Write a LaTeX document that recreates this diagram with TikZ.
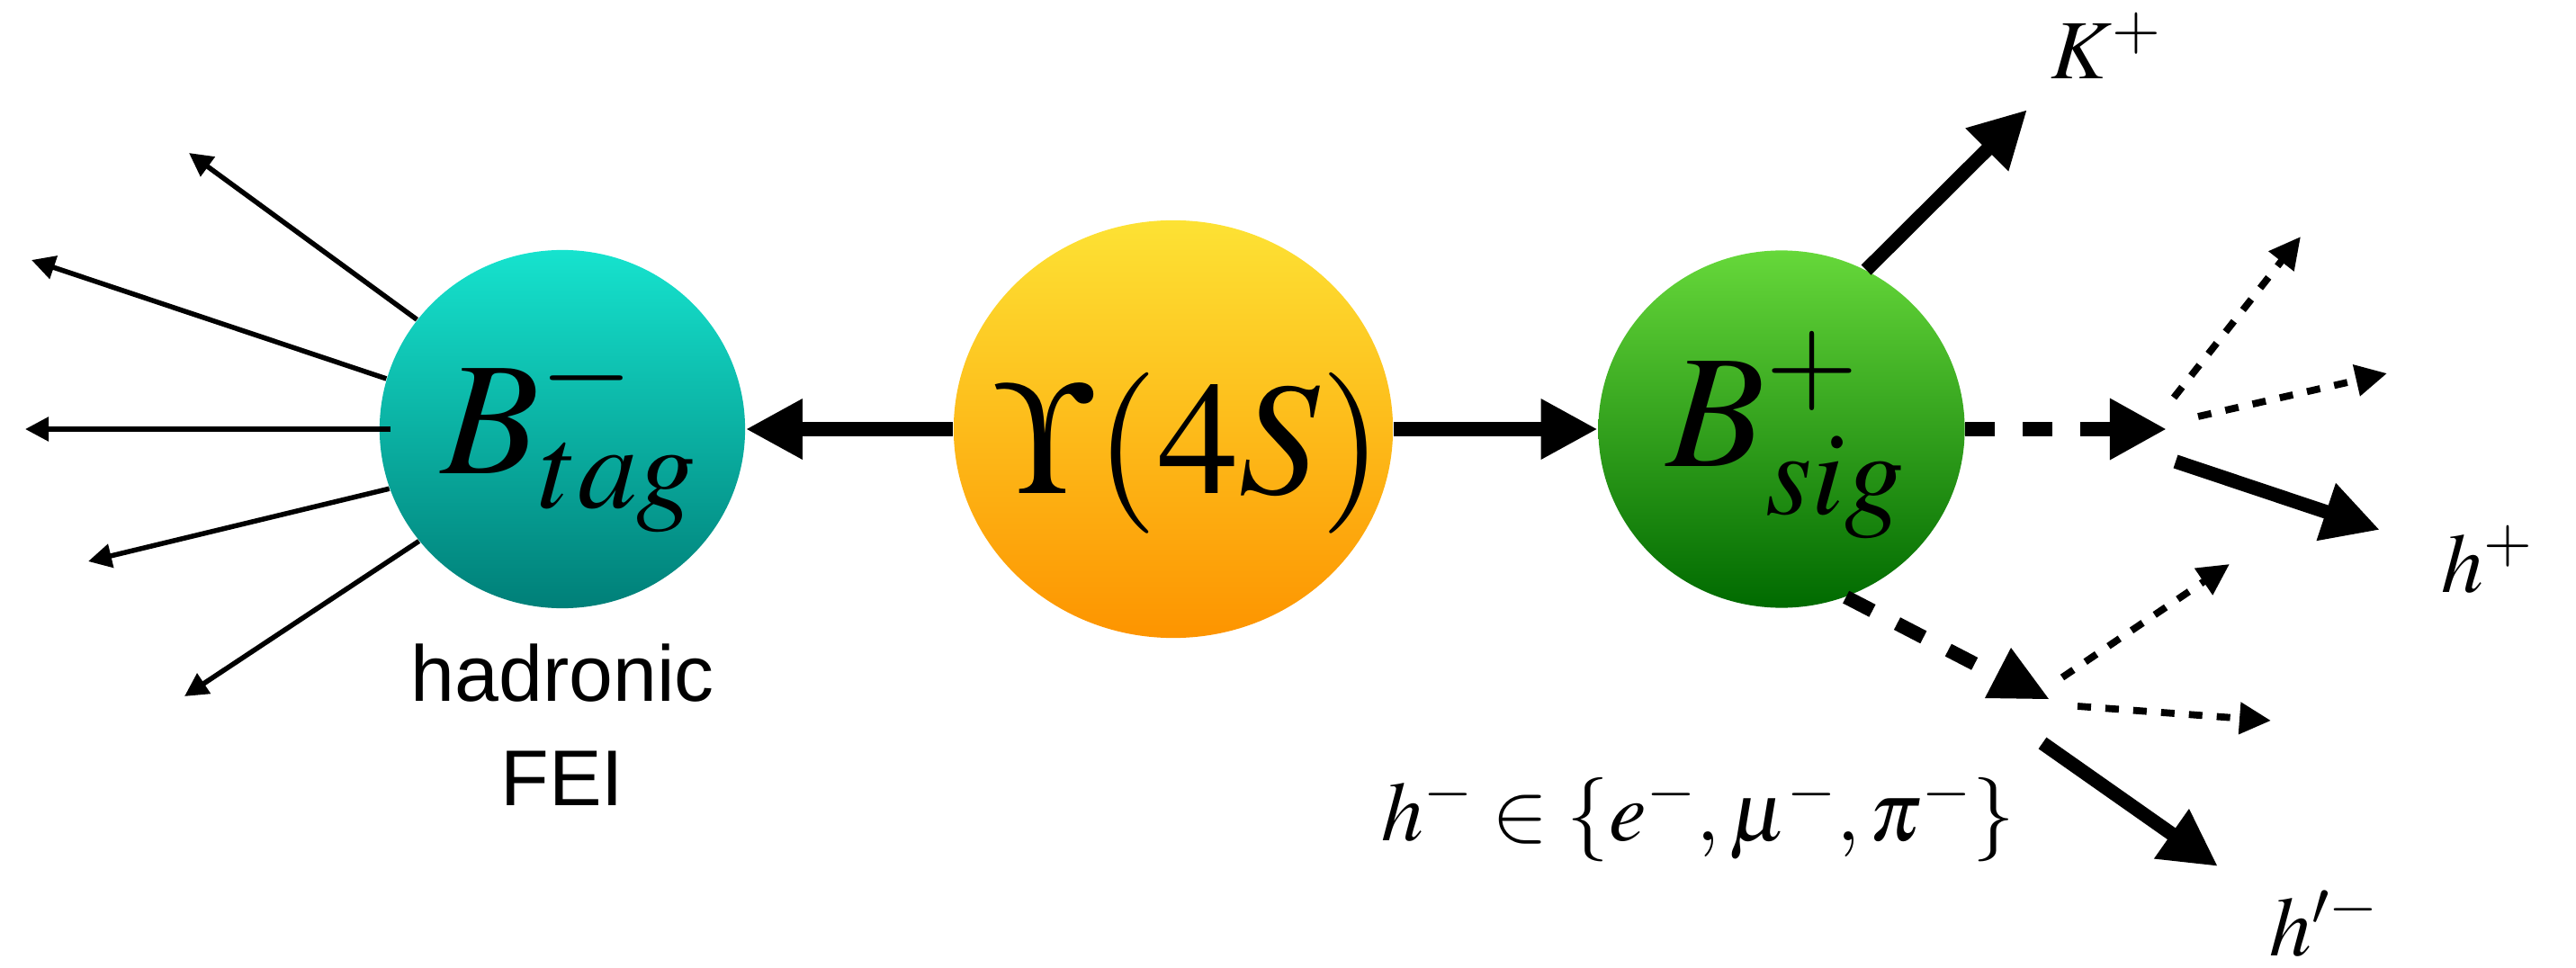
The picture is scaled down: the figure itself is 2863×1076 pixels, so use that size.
\documentclass[tikz,border=0pt]{standalone}
\usepackage[no-math]{fontspec}
\usepackage{mathptmx}
\newfontfamily\labelsans{Liberation Sans}
\usetikzlibrary{arrows.meta,shapes.geometric}
\definecolor{btagtop}{RGB}{22,227,206}
\definecolor{btagbot}{RGB}{0,127,120}
\definecolor{upstop}{RGB}{253,226,52}
\definecolor{upsbot}{RGB}{253,148,0}
\definecolor{bsigtop}{RGB}{102,216,58}
\definecolor{bsigbot}{RGB}{0,106,0}
\begin{document}
\begin{tikzpicture}[x=0.01cm,y=-0.01cm,
  blob/.style={ellipse, inner sep=0pt, draw=none},
  bigmath/.style={inner sep=0pt, font=\fontsize{50.9}{61}\selectfont},
  lbl/.style={inner sep=0pt, font=\fontsize{26.6}{32}\selectfont},
  sanslbl/.style={inner sep=0pt, font=\labelsans\fontsize{25}{30}\selectfont},
  thickarr/.style={line width=0.155cm, -{Triangle[length=0.63cm,width=0.63cm]}},
  thinarr/.style={line width=0.055cm, -{Triangle[length=0.26cm,width=0.26cm]}},
  dotarr/.style={line width=0.078cm, dash pattern=on 0.15cm off 0.16cm, -{Triangle[length=0.35cm,width=0.34cm]}},
  thickdash/.style={line width=0.155cm, dash pattern=on 0.33cm off 0.31cm},
  dashtip/.style={line width=0.155cm, dash pattern=on 0.33cm off 0.31cm, -{Triangle[length=0.63cm,width=0.64cm]}},
]
\useasboundingbox (0,0) rectangle (2863,1076);

% blobs
\node[blob, minimum width=4.06cm, minimum height=3.98cm, top color=btagtop, bottom color=btagbot] (Bt) at (625,477) {};
\node[blob, minimum width=4.88cm, minimum height=4.64cm, top color=upstop, bottom color=upsbot] (U) at (1304,477) {};
\node[blob, minimum width=4.07cm, minimum height=3.97cm, top color=bsigtop, bottom color=bsigbot] (Bs) at (1980,477) {};

% texts in blobs
\node[bigmath, anchor=base west] (BtT) at (490,526) {$B^-_{tag}$};
\node[bigmath, anchor=base west] (UT) at (1106,548) {$\Upsilon(4S)$};
\node[bigmath, anchor=base west] (BsT) at (1852,518) {$B^+_{sig}$};

% labels
\node[sanslbl, anchor=base] (had) at (625,779) {hadronic};
\node[sanslbl, anchor=base] (fei) at (625,895) {FEI};
\node[lbl, anchor=base west] (Kp) at (2279,88) {$K^+$};
\node[lbl, anchor=base west] (hp) at (2713,658) {$h^+$};
\node[lbl, anchor=base west] (hpm) at (2522,1062) {$h^{\prime -}$};
\node[lbl, anchor=base west] (hset) at (1535,934) {$h^- \in \{e^-, \mu^-, \pi^-\}$};

% coordinates
\coordinate (t1) at (210,170);
\coordinate (t2) at (35,289);
\coordinate (t3) at (28,477);
\coordinate (t4) at (98,624);
\coordinate (t5) at (205,774);
\coordinate (tK) at (2253,122);
\coordinate (v1) at (2408,477);
\coordinate (a1s) at (2416,442);
\coordinate (a1t) at (2557,263);
\coordinate (a2s) at (2443,463);
\coordinate (a2t) at (2653,415);
\coordinate (a3s) at (2418,513);
\coordinate (a3t) at (2645,589);
\coordinate (d2e) at (2195,738);
\coordinate (b1s) at (2292,753);
\coordinate (b1t) at (2478,627);
\coordinate (b2s) at (2309,785);
\coordinate (b2t) at (2524,801);
\coordinate (b3s) at (2270,826);
\coordinate (b3t) at (2465,963);

% main connectors
\draw[thickarr] (U.west) -- (Bt.east);
\draw[thickarr] (U.east) -- (Bs.west);

% B_tag decay products
\draw[thinarr] (Bt.143) -- (t1);
\draw[thinarr] (Bt.164) -- (t2);
\draw[thinarr] ([xshift=0.13cm]Bt.west) -- (t3);
\draw[thinarr] (Bt.199) -- (t4);
\draw[thinarr] (Bt.218) -- (t5);

% B_sig decay
\draw[thickarr] (Bs.62.6) -- (tK);
\draw[dashtip] (Bs.east) -- (v1);
\draw[dotarr] (a1s) -- (a1t);
\draw[dotarr] (a2s) -- (a2t);
\draw[thickarr] (a3s) -- (a3t);

\draw[thickdash] (Bs.-69) -- (d2e);
\fill (2235,720) -- (2206,776) -- (2277,777) -- cycle;
\draw[dotarr] (b1s) -- (b1t);
\draw[dotarr] (b2s) -- (b2t);
\draw[thickarr] (b3s) -- (b3t);
\end{tikzpicture}
\end{document}
